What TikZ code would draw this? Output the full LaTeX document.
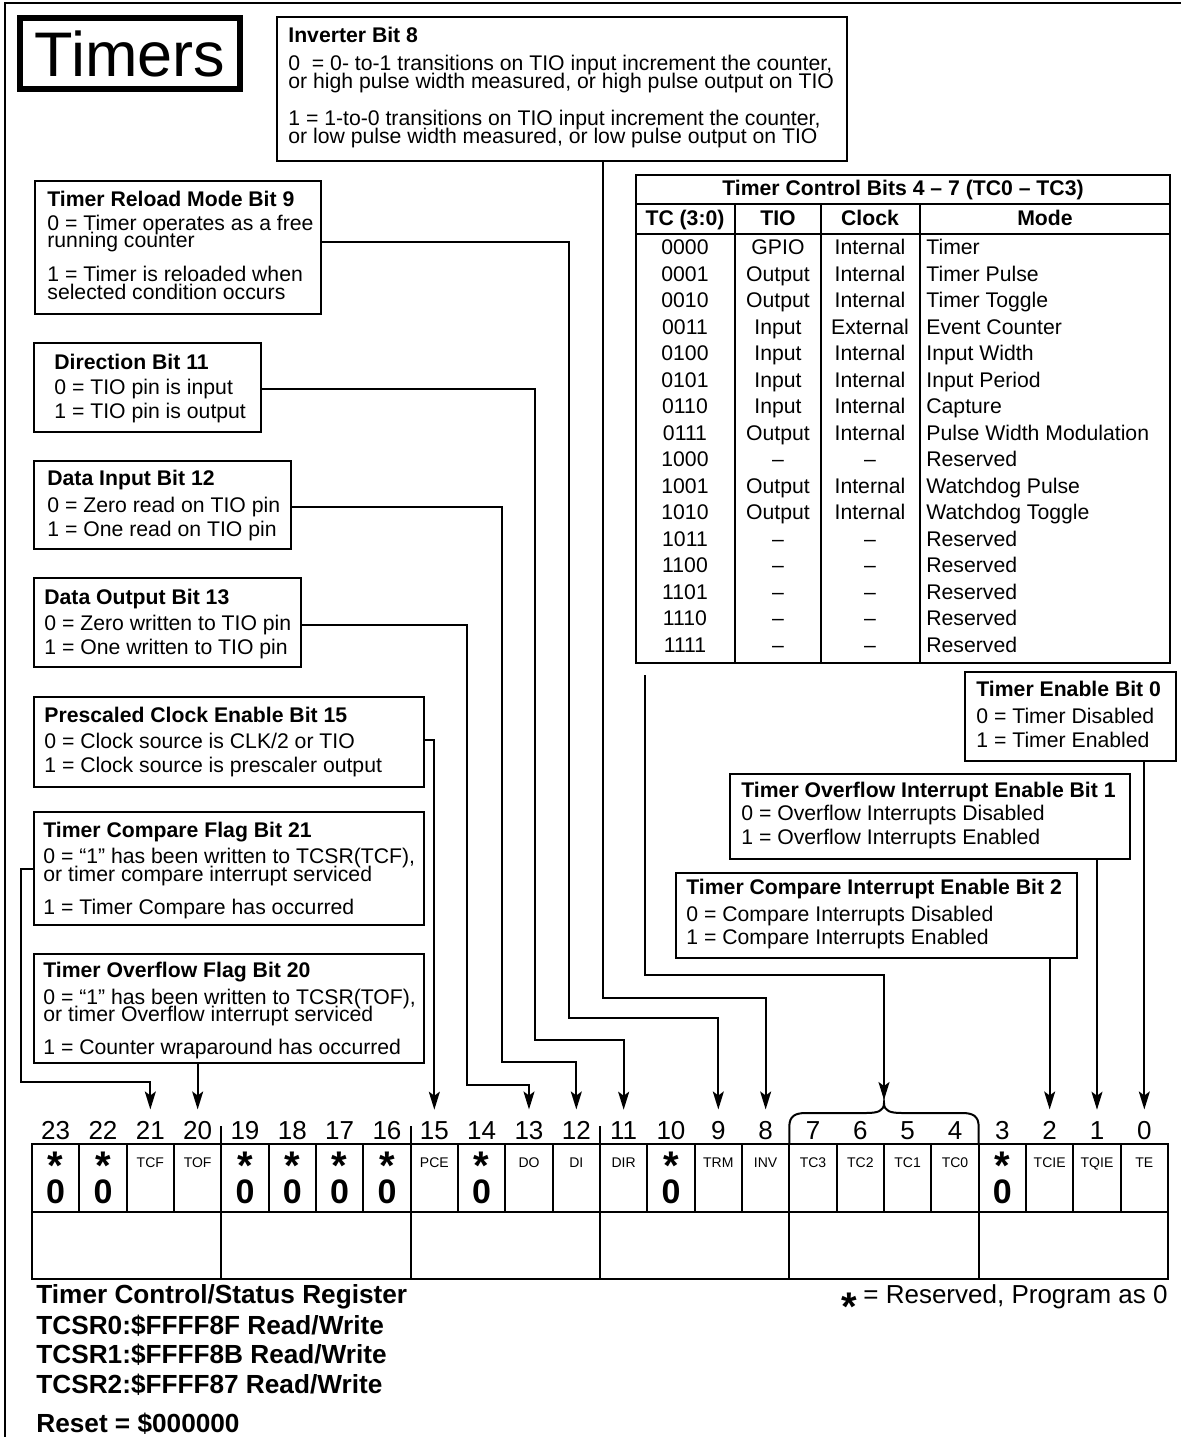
\documentclass[tikz,border=0pt]{standalone}
\usepackage{fontspec}
\setmainfont{Liberation Sans}
\usetikzlibrary{arrows.meta,fit,calc}
\begin{document}
\begin{tikzpicture}[x=0.5pt,y=-0.5pt,
  boxst/.style={draw, line width=1pt, inner sep=0pt},
  txt/.style={inner sep=0pt, anchor=base west, font=\fontsize{10.6}{12}\selectfont},
  hdr/.style={inner sep=0pt, anchor=base west, font=\fontsize{10.6}{12}\selectfont\bfseries},
  ctxt/.style={inner sep=0pt, anchor=base, font=\fontsize{10.6}{12}\selectfont},
  chdr/.style={inner sep=0pt, anchor=base, font=\fontsize{10.6}{12}\selectfont\bfseries},
  conn/.style={line width=1pt},
  arr/.style={conn, -{Stealth[length=9pt,width=5.5pt,inset=2pt]}},
  num/.style={inner sep=0pt, anchor=base, font=\fontsize{13}{13}\selectfont},
  bitname/.style={inner sep=0pt, anchor=base, font=\fontsize{7}{7}\selectfont},
  starst/.style={inner sep=0pt, anchor=base, font=\fontsize{20}{20}\selectfont\bfseries},
  zerost/.style={inner sep=0pt, anchor=base, font=\fontsize{17}{17}\selectfont\bfseries},
  regtitle/.style={inner sep=0pt, anchor=base west, font=\fontsize{13.1}{14}\selectfont\bfseries},
  reg/.style={line width=1pt}
]
\useasboundingbox (0,0) rectangle (1181,1437);
% outer frame
\draw[line width=1.3pt] (1181,3) -- (5,3) -- (5,1437);

% title
\node[draw, line width=3pt, minimum width=110pt, minimum height=35.5pt, inner sep=0pt,
      font=\fontsize{31.5}{32}\selectfont] (title) at (130,53.5) {Timers};

% Inverter
\node[boxst, fit={(277,17) (847,161)}] (invbox) {};
\node[hdr] (invh) at (288,42) {Inverter Bit 8};
\node[txt] (inv0a) at (288,70) {0\ \ = 0- to-1 transitions on TIO input increment the counter,};
\node[txt] (inv0b) at (288,88) {or high pulse width measured, or high pulse output on TIO};
\node[txt] (inv1a) at (288,125) {1 = 1-to-0 transitions on TIO input increment the counter,};
\node[txt] (inv1b) at (288,143) {or low pulse width measured, or low pulse output on TIO};

% Timer Reload
\node[boxst, fit={(35,181) (321,314)}] (trbox) {};
\node[hdr] (trh) at (47,206) {Timer Reload Mode Bit 9};
\node[txt] (tr0a) at (47,230) {0 = Timer operates as a free};
\node[txt] (tr0b) at (47,247) {running counter};
\node[txt] (tr1a) at (47,281) {1 = Timer is reloaded when};
\node[txt] (tr1b) at (47,299) {selected condition occurs};

% Direction
\node[boxst, fit={(34,343) (261,432)}] (dirbox) {};
\node[hdr] (dirh) at (54,369) {Direction Bit 11};
\node[txt] (dir0) at (54,394) {0 = TIO pin is input};
\node[txt] (dir1) at (54,418) {1 = TIO pin is output};

% Data Input
\node[boxst, fit={(34,461) (291,549)}] (dibox) {};
\node[hdr] (dih) at (47,485) {Data Input Bit 12};
\node[txt] (di0) at (47,512) {0 = Zero read on TIO pin};
\node[txt] (di1) at (47,536) {1 = One read on TIO pin};

% Data Output
\node[boxst, fit={(34,578) (301,667)}] (dobox) {};
\node[hdr] (doh) at (44,604) {Data Output Bit 13};
\node[txt] (do0) at (44,630) {0 = Zero written to TIO pin};
\node[txt] (do1) at (44,654) {1 = One written to TIO pin};

% Prescaled
\node[boxst, fit={(34,697) (424,787)}] (pcebox) {};
\node[hdr] (pceh) at (44,722) {Prescaled Clock Enable Bit 15};
\node[txt] (pce0) at (44,748) {0 = Clock source is CLK/2 or TIO};
\node[txt] (pce1) at (44,772) {1 = Clock source is prescaler output};

% Timer Compare Flag
\node[boxst, fit={(34,812) (424,925)}] (tcfbox) {};
\node[hdr] (tcfh) at (43,837) {Timer Compare Flag Bit 21};
\node[txt] (tcf0a) at (43,863) {0 = “1” has been written to TCSR(TCF),};
\node[txt] (tcf0b) at (43,881) {or timer compare interrupt serviced};
\node[txt] (tcf1) at (43,914) {1 = Timer Compare has occurred};

% Timer Overflow Flag
\node[boxst, fit={(34,954) (424,1063)}] (tofbox) {};
\node[hdr] (tofh) at (43,977) {Timer Overflow Flag Bit 20};
\node[txt] (tof0a) at (43,1004) {0 = “1” has been written to TCSR(TOF),};
\node[txt] (tof0b) at (43,1021) {or timer Overflow interrupt serviced};
\node[txt] (tof1) at (43,1054) {1 = Counter wraparound has occurred};

% Timer Enable
\node[boxst, fit={(965,672) (1176,761)}] (tebox) {};
\node[hdr] (teh) at (976,696) {Timer Enable Bit 0};
\node[txt] (te0) at (976,723) {0 = Timer Disabled};
\node[txt] (te1) at (976,747) {1 = Timer Enabled};

% TOIE
\node[boxst, fit={(730,774) (1130,859)}] (toiebox) {};
\node[hdr] (toieh) at (741,797) {Timer Overflow Interrupt Enable Bit 1};
\node[txt] (toie0) at (741,820) {0 = Overflow Interrupts Disabled};
\node[txt] (toie1) at (741,844) {1 = Overflow Interrupts Enabled};

% TCIE
\node[boxst, fit={(676,873) (1077,958)}] (tciebox) {};
\node[hdr] (tcieh) at (686,894) {Timer Compare Interrupt Enable Bit 2};
\node[txt] (tcie0) at (686,921) {0 = Compare Interrupts Disabled};
\node[txt] (tcie1) at (686,944) {1 = Compare Interrupts Enabled};

% Table
\node[draw, line width=0.8pt, inner sep=0pt, fit={(636,175) (1170,663)}] (tbl) {};
\draw[line width=0.8pt] (636,204) -- (1170,204);
\draw[line width=0.8pt] (636,234) -- (1170,234);
\foreach \xx in {735,821,920} { \draw[line width=0.8pt] (\xx,204) -- (\xx,663); }
\node[chdr] (tblt) at (903,195) {Timer Control Bits 4 \textendash{} 7 (TC0 \textendash{} TC3)};
\node[chdr] (th1) at (685,225) {TC (3:0)};
\node[chdr] (th2) at (778,225) {TIO};
\node[chdr] (th3) at (870,225) {Clock};
\node[chdr] (th4) at (1045,225) {Mode};
\foreach \tc/\tio/\clk/\md [count=\k from 0] in {
  0000/GPIO/Internal/Timer,
  0001/Output/Internal/Timer Pulse,
  0010/Output/Internal/Timer Toggle,
  0011/Input/External/Event Counter,
  0100/Input/Internal/Input Width,
  0101/Input/Internal/Input Period,
  0110/Input/Internal/Capture,
  0111/Output/Internal/Pulse Width Modulation,
  1000/\textendash/\textendash/Reserved,
  1001/Output/Internal/Watchdog Pulse,
  1010/Output/Internal/Watchdog Toggle,
  1011/\textendash/\textendash/Reserved,
  1100/\textendash/\textendash/Reserved,
  1101/\textendash/\textendash/Reserved,
  1110/\textendash/\textendash/Reserved,
  1111/\textendash/\textendash/Reserved} {
  \pgfmathsetmacro{\yy}{254.5+26.5*\k}
  \node[ctxt] (tc\k) at (685,\yy) {\tc};
  \node[ctxt] (tio\k) at (778,\yy) {\tio};
  \node[ctxt] (clk\k) at (870,\yy) {\clk};
  \node[txt] (md\k) at (926,\yy) {\md};
}

% Register
\draw[reg] (32,1144) rectangle (1168,1279);
\draw[reg] (32,1212) -- (1168,1212);
\foreach \i in {1,...,23} {
  \pgfmathsetmacro{\xx}{32+\i*47.333}
  \draw[reg] (\xx,1144) -- (\xx,1212);
}
\foreach \i in {4,8,12,16,20} {
  \pgfmathsetmacro{\xx}{32+\i*47.333}
  \draw[reg] (\xx,1212) -- (\xx,1279);
}
\foreach \i in {4,8,12} {
  \pgfmathsetmacro{\xx}{32+\i*47.333}
  \draw[reg] (\xx,1126) -- (\xx,1144);
}
% brace over bits 7-4
\coordinate (brtip) at (884,1103);
\draw[line width=1pt] (789.3,1144) -- (789.3,1127) .. controls (789.3,1116) and (795,1113) .. (806,1113)
  -- (866,1113) .. controls (878,1113) and (884,1111) .. (brtip)
  .. controls (884,1111) and (890,1113) .. (902,1113)
  -- (962,1113) .. controls (973,1113) and (978.7,1116) .. (978.7,1127) -- (978.7,1144);

\foreach \b in {0,...,23} {
  \pgfmathsetmacro{\xc}{32+(23.5-\b)*47.333}
  \node[num] (n\b) at (\xc,1139) {\b};
}
\foreach \b in {23,22,19,18,17,16,14,10,3} {
  \pgfmathsetmacro{\xc}{32+(23.5-\b)*47.333}
  \node[starst] (s\b) at (\xc,1179) {*};
  \node[zerost] (z\b) at (\xc,1203) {0};
}
\foreach \b/\nm in {21/TCF,20/TOF,15/PCE,13/DO,12/DI,11/DIR,9/TRM,8/INV,7/TC3,6/TC2,5/TC1,4/TC0,2/TCIE,1/TQIE,0/TE} {
  \pgfmathsetmacro{\xc}{32+(23.5-\b)*47.333}
  \node[bitname] (c\b) at (\xc,1167) {\nm};
}

% Connectors
\draw[arr] ([xshift=20.5pt]invbox.south) -- ++(0,836) -| ([yshift=5.5pt]n8.north);
\draw[arr] (trbox.east |- tr0b) -| (569,1018) -| ([yshift=5.5pt]n9.north);
\draw[arr] (dirbox.east |- dir0) -| (535,1040) -| ([yshift=5.5pt]n11.north);
\draw[arr] (dibox.east |- di0) -| (502,1062) -| ([yshift=5.5pt]n12.north);
\draw[arr] (dobox.east |- do0) -| (467,1085) -| ([yshift=5.5pt]n13.north);
\draw[arr] (pcebox.east |- pce0) -| ([yshift=5.5pt]n15.north);
\draw[arr] (tcfbox.west) -| (21,1082) -| ([yshift=5.5pt]n21.north);
\draw[arr] (tofbox.south -| n20) -- ([yshift=5.5pt]n20.north);
\coordinate (tcfree) at (645,675);
\draw[arr] (tcfree) -- (645,975) -- (884,975) -- ([yshift=1.5pt]brtip);
\draw[arr] (tciebox.south -| n2) -- ([yshift=5.5pt]n2.north);
\draw[arr] (toiebox.south -| n1) -- ([yshift=5.5pt]n1.north);
\draw[arr] (tebox.south -| n0) -- ([yshift=5.5pt]n0.north);

% Register title
\node[regtitle] (rt0) at (36,1303) {Timer Control/Status Register};
\node[regtitle] (rt1) at (36,1334) {TCSR0:\$FFFF8F Read/Write};
\node[regtitle] (rt2) at (36,1363) {TCSR1:\$FFFF8B Read/Write};
\node[regtitle] (rt3) at (36,1393) {TCSR2:\$FFFF87 Read/Write};
\node[regtitle] (rt4) at (36,1432) {Reset = \$000000};

% note
\node[inner sep=0pt, anchor=base east, font=\fontsize{13}{13}\selectfont] (note) at (1168,1303) {= Reserved, Program as 0};
\node[starst, anchor=base east] (notestar) at ([xshift=-3pt,yshift=-8.5pt]note.base west) {*};
\end{tikzpicture}
\end{document}
